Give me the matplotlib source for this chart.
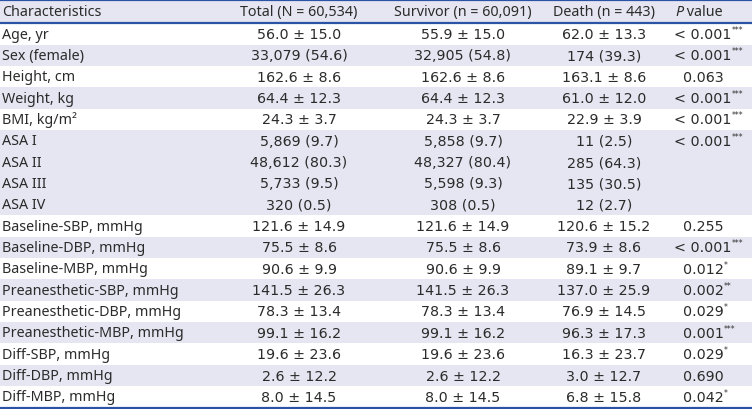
import matplotlib.pyplot as plt
from matplotlib.patches import Rectangle

# === Tabellendaten ===
header = ["Characteristics", "Total (N = 60,534)", "Survivor (n = 60,091)", "Death (n = 443)"]

characteristics = [
    "Age, yr", "Sex (female)", "Height, cm", "Weight, kg", "BMI, kg/m²",
    "ASA I", "ASA II", "ASA III", "ASA IV",
    "Baseline-SBP, mmHg", "Baseline-DBP, mmHg", "Baseline-MBP, mmHg",
    "Preanesthetic-SBP, mmHg", "Preanesthetic-DBP, mmHg", "Preanesthetic-MBP, mmHg",
    "Diff-SBP, mmHg", "Diff-DBP, mmHg", "Diff-MBP, mmHg",
]
total = [
    "56.0 ± 15.0", "33,079 (54.6)", "162.6 ± 8.6", "64.4 ± 12.3", "24.3 ± 3.7",
    "5,869 (9.7)", "48,612 (80.3)", "5,733 (9.5)", "320 (0.5)",
    "121.6 ± 14.9", "75.5 ± 8.6", "90.6 ± 9.9",
    "141.5 ± 26.3", "78.3 ± 13.4", "99.1 ± 16.2",
    "19.6 ± 23.6", "2.6 ± 12.2", "8.0 ± 14.5",
]
survivor = [
    "55.9 ± 15.0", "32,905 (54.8)", "162.6 ± 8.6", "64.4 ± 12.3", "24.3 ± 3.7",
    "5,858 (9.7)", "48,327 (80.4)", "5,598 (9.3)", "308 (0.5)",
    "121.6 ± 14.9", "75.5 ± 8.6", "90.6 ± 9.9",
    "141.5 ± 26.3", "78.3 ± 13.4", "99.1 ± 16.2",
    "19.6 ± 23.6", "2.6 ± 12.2", "8.0 ± 14.5",
]
death = [
    "62.0 ± 13.3", "174 (39.3)", "163.1 ± 8.6", "61.0 ± 12.0", "22.9 ± 3.9",
    "11 (2.5)", "285 (64.3)", "135 (30.5)", "12 (2.7)",
    "120.6 ± 15.2", "73.9 ± 8.6", "89.1 ± 9.7",
    "137.0 ± 25.9", "76.9 ± 14.5", "96.3 ± 17.3",
    "16.3 ± 23.7", "3.0 ± 12.7", "6.8 ± 15.8",
]
p_values = [
    "< 0.001", "< 0.001", "0.063", "< 0.001", "< 0.001",
    "< 0.001", "", "", "",
    "0.255", "< 0.001", "0.012",
    "0.002", "0.029", "0.001",
    "0.029", "0.690", "0.042",
]
stars = [
    "***", "***", "", "***", "***",
    "***", "", "", "",
    "", "***", "*",
    "**", "*", "***",
    "*", "", "*",
]
# Gruppen (ASA I-IV bilden eine Gruppe) -> Zeilenschattierung
groups = [0, 1, 2, 3, 4, 5, 5, 5, 5, 6, 7, 8, 9, 10, 11, 12, 13, 14]

# === Layout ===
W, H = 752, 410
header_h = 24.4
row_h = 21.34
col_x = [2, 299, 463, 604, 703]
blue = "#2a52a5"
shade = "#e6e6f2"
txt = "#2b2b2b"
fs_lab = 10.3
fs_num = 10.3

lab_font = ['Noto Sans', 'DejaVu Sans']
num_font = ['DejaVu Sans']

fig = plt.figure(figsize=(W / 100, H / 100), dpi=100)
ax = fig.add_axes([0, 0, 1, 1])
ax.set_xlim(0, W)
ax.set_ylim(H, 0)
ax.axis("off")

# Kopfzeile
ax.add_patch(Rectangle((0, 0), W, header_h, color=shade, lw=0))
ax.text(col_x[0], header_h / 2, header[0], ha="left", va="center",
        fontsize=fs_lab, color=txt, family=lab_font)
for i in range(1, 4):
    ax.text(col_x[i], header_h / 2, header[i], ha="center", va="center",
            fontsize=fs_lab, color=txt, family=lab_font)
p_lab = ax.text(675, header_h / 2, "P", ha="left", va="center",
                fontsize=fs_lab, color=txt, style="italic", family=lab_font)
ax.annotate(" value", xy=(1, 0.5), xycoords=p_lab, ha="left", va="center",
            fontsize=fs_lab, color=txt, family=lab_font)

# Datenzeilen
n = len(characteristics)
for r in range(n):
    top = header_h + r * row_h
    yc = top + row_h / 2
    if groups[r] % 2 == 1:
        ax.add_patch(Rectangle((0, top), W, row_h, color=shade, lw=0))
    ax.text(col_x[0], yc, characteristics[r], ha="left", va="center",
            fontsize=fs_lab, color=txt, family=lab_font)
    for c, col in enumerate([total, survivor, death], start=1):
        ax.text(col_x[c], yc, col[r], ha="center", va="center",
                fontsize=fs_num, color=txt, family=num_font)
    if p_values[r]:
        t = ax.text(col_x[4], yc, p_values[r], ha="center", va="center",
                    fontsize=fs_num, color=txt, family=num_font)
        if stars[r]:
            ax.annotate(stars[r], xy=(1, 1), xycoords=t, xytext=(0.3, 1.5),
                        textcoords="offset points", ha="left", va="top",
                        fontsize=5.5, color=txt)

# Linien
bottom = header_h + n * row_h
ax.plot([0, W], [0.9, 0.9], color=blue, lw=1.6)
ax.plot([0, W], [header_h, header_h], color=blue, lw=1.6)
ax.plot([0, W], [bottom, bottom], color=blue, lw=1.6)

fig.savefig("out.png", dpi=100)
